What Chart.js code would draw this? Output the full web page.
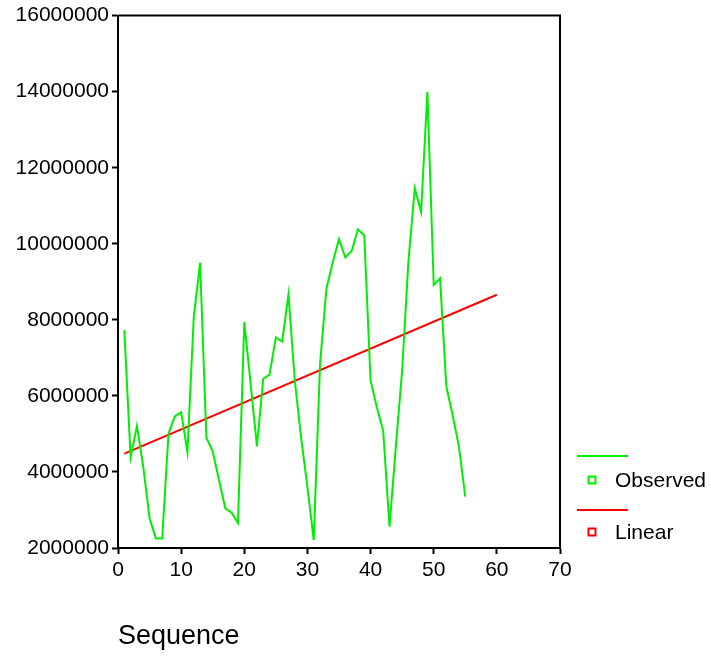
<!DOCTYPE html>
<html>
<head>
<meta charset="utf-8">
<script src="https://cdn.jsdelivr.net/npm/chart.js@4.4.1/dist/chart.umd.min.js"></script>
<style>
  html, body { margin: 0; padding: 0; background: #fff; }
  #myChart { display: block; }
</style>
</head>
<body>
<canvas id="myChart" width="711" height="657"></canvas>
<script>
// data
const sequence = [1, 2, 3, 4, 5, 6, 7, 8, 9, 10, 11, 12, 13, 14, 15, 16, 17, 18, 19, 20,
  21, 22, 23, 24, 25, 26, 27, 28, 29, 30, 31, 32, 33, 34, 35, 36, 37, 38, 39, 40,
  41, 42, 43, 44, 45, 46, 47, 48, 49, 50, 51, 52, 53, 54, 55];
const observed = [7730000, 4380000, 5210000, 4130000, 2780000, 2250000, 2250000, 5010000, 5460000, 5570000,
  4520000, 8080000, 9500000, 4900000, 4540000, 3780000, 3040000, 2930000, 2660000, 7940000,
  6330000, 4670000, 6450000, 6560000, 7540000, 7430000, 8670000, 6400000, 4900000, 3600000,
  2210000, 6840000, 8810000, 9510000, 10120000, 9640000, 9810000, 10380000, 10220000, 6400000,
  5700000, 5080000, 2560000, 4660000, 6670000, 9550000, 11460000, 10840000, 13990000, 8920000,
  9090000, 6250000, 5490000, 4660000, 3350000];
const linearX = [1, 60];
const linearY = [4480000, 8660000];
const xTicks = [0, 10, 20, 30, 40, 50, 60, 70];
const yTicks = [2000000, 4000000, 6000000, 8000000, 10000000, 12000000, 14000000, 16000000];

const green = '#00ee00';
const red = '#ff0000';
const fontFamily = 'Arial, "Liberation Sans", sans-serif';

// box round the plot and the legend on the right
const boxAndLegend = {
  id: 'boxAndLegend',
  afterDraw(chart) {
    const ctx = chart.ctx;
    const a = chart.chartArea;
    ctx.save();
    ctx.strokeStyle = '#000';
    ctx.lineWidth = 2;
    ctx.beginPath();
    ctx.moveTo(a.left, a.top);
    ctx.lineTo(a.right, a.top);
    ctx.lineTo(a.right, a.bottom);
    ctx.stroke();

    const items = [
      { label: 'Observed', color: green, lineY: 456, markY: 480 },
      { label: 'Linear', color: red, lineY: 510, markY: 532 }
    ];
    ctx.font = '21px ' + fontFamily;
    ctx.textBaseline = 'middle';
    ctx.textAlign = 'left';
    items.forEach(it => {
      ctx.strokeStyle = it.color;
      ctx.lineWidth = 2;
      ctx.beginPath();
      ctx.moveTo(577, it.lineY);
      ctx.lineTo(628, it.lineY);
      ctx.stroke();
      ctx.strokeRect(588.5, it.markY - 3.5, 7, 7);
      ctx.fillStyle = '#000';
      ctx.fillText(it.label, 615, it.markY + 1);
    });
    ctx.restore();
  }
};

const data = {
  datasets: [{
    label: 'Observed',
    data: sequence.map((x, i) => ({ x: x, y: observed[i] })),
    borderColor: green,
    borderWidth: 2,
    pointRadius: 0,
    showLine: true,
    tension: 0
  }, {
    label: 'Linear',
    data: linearX.map((x, i) => ({ x: x, y: linearY[i] })),
    borderColor: red,
    borderWidth: 2,
    pointRadius: 0,
    showLine: true,
    tension: 0
  }]
};

const config = {
  type: 'scatter',
  data,
  options: {
    responsive: false,
    animation: false,
    layout: { padding: { top: 14, right: 151, left: 0, bottom: 0 } },
    plugins: {
      legend: { display: false },
      tooltip: { enabled: false }
    },
    scales: {
      x: {
        type: 'linear',
        min: 0,
        max: 70,
        afterBuildTicks: s => { s.ticks = xTicks.map(v => ({ value: v })); },
        afterFit: s => { s.height = 109; },
        grid: { drawOnChartArea: false, drawTicks: true, tickLength: 6, tickWidth: 2, color: '#000' },
        border: { display: true, color: '#000', width: 2 },
        ticks: { color: '#000', padding: 4, maxRotation: 0, font: { family: fontFamily, size: 21 } },
        title: {
          display: true,
          text: 'Sequence',
          align: 'start',
          color: '#000',
          padding: { top: 0, bottom: 4 },
          font: { family: fontFamily, size: 27 }
        }
      },
      y: {
        type: 'linear',
        min: 2000000,
        max: 16000000,
        afterBuildTicks: s => { s.ticks = yTicks.map(v => ({ value: v })); },
        afterFit: s => { s.width = 118; },
        grid: { drawOnChartArea: false, drawTicks: true, tickLength: 6, tickWidth: 2, color: '#000' },
        border: { display: true, color: '#000', width: 2 },
        ticks: {
          color: '#000',
          padding: 3,
          font: { family: fontFamily, size: 21 },
          callback: v => String(v)
        }
      }
    }
  },
  plugins: [boxAndLegend]
};

const myChart = new Chart(document.getElementById('myChart'), config);
</script>
</body>
</html>
